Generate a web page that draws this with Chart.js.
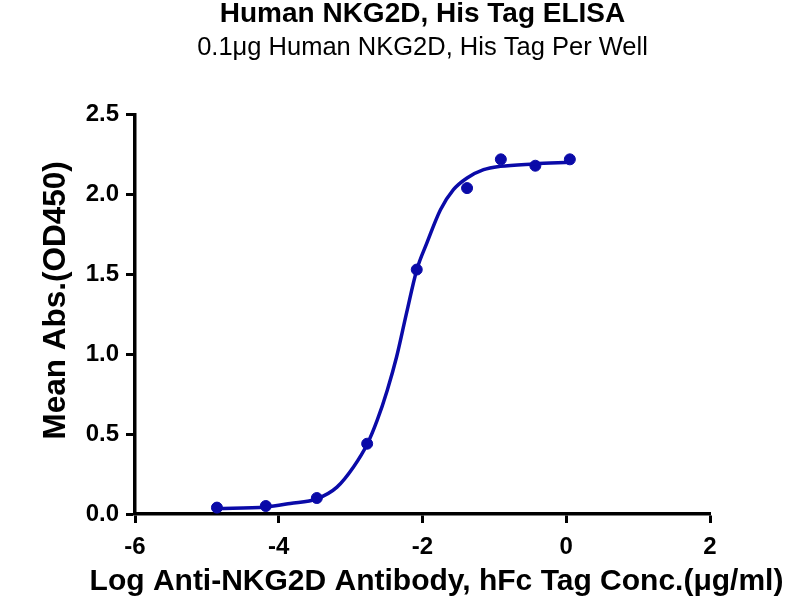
<!DOCTYPE html>
<html>
<head>
<meta charset="utf-8">
<title>Human NKG2D, His Tag ELISA</title>
<script src="https://cdn.jsdelivr.net/npm/chart.js@4/dist/chart.umd.min.js"></script>
<style>
  html, body { margin: 0; padding: 0; background: #fff; }
  #wrap { width: 800px; height: 600px; position: relative; }
</style>
</head>
<body>
<div id="wrap"><canvas id="elisaChart"></canvas></div>
<script>
// measured points (log concentration, mean OD450)
const logConc = [-4.86, -4.18, -3.47, -2.77, -2.08, -1.38, -0.91, -0.43, 0.05];
const meanAbs = [0.04, 0.05, 0.10, 0.44, 1.53, 2.04, 2.22, 2.18, 2.22];

// fitted curve
const fitX = [-4.86, -4.18, -3.84, -3.47, -3.19, -2.96, -2.77, -2.63, -2.49, -2.36, -2.22, -2.08, -1.94, -1.75, -1.57, -1.38, -1.15, -0.92, -0.45, 0.05];
const fitY = [0.035, 0.044, 0.066, 0.095, 0.168, 0.294, 0.436, 0.587, 0.775, 0.984, 1.262, 1.528, 1.695, 1.904, 2.03, 2.103, 2.155, 2.176, 2.191, 2.201];

// axis ticks
const xTicks = [-6, -4, -2, 0, 2];
const yTicks = [0, 0.5, 1.0, 1.5, 2.0, 2.5];

const xTitle = 'Log Anti-NKG2D Antibody, hFc Tag Conc.(\u03bcg/ml)';
const yTitle = 'Mean Abs.(OD450)';

const blue = '#0a0aa8';
const fontFamily = '"Liberation Sans", Arial, Helvetica, sans-serif';

const pointData = logConc.map((x, i) => ({ x: x, y: meanAbs[i] }));
const curveData = fitX.map((x, i) => ({ x: x, y: fitY[i] }));

/**
 * Axis titles are drawn here instead of by the scales: the x title is
 * wider than the plot area and Chart.js would squeeze it to fit.
 */
const axisTitles = {
    id: 'axisTitles',
    afterDraw(chart) {
        const { ctx, chartArea } = chart;
        ctx.save();
        ctx.fillStyle = '#000';
        ctx.textAlign = 'center';
        ctx.textBaseline = 'middle';

        ctx.font = 'bold 30px ' + fontFamily;
        ctx.fillText(xTitle, (chartArea.left + chartArea.right) / 2 + 14, chart.height - 18);

        ctx.font = 'bold 31.5px ' + fontFamily;
        ctx.translate(56, (chartArea.top + chartArea.bottom) / 2 - 14);
        ctx.rotate(-Math.PI / 2);
        ctx.fillText(yTitle, 0, 0);
        ctx.restore();
    }
};

const ctx = document.getElementById('elisaChart');
new Chart(ctx, {
    type: 'scatter',
    data: {
        datasets: [
            {
                label: 'Fit',
                type: 'line',
                data: curveData,
                borderColor: blue,
                borderWidth: 3.5,
                pointRadius: 0,
                fill: false,
                cubicInterpolationMode: 'monotone'
            },
            {
                label: 'Mean Abs.',
                data: pointData,
                backgroundColor: blue,
                borderColor: blue,
                pointRadius: 5.5,
                pointHoverRadius: 5.5
            }
        ]
    },
    plugins: [axisTitles],
    options: {
        responsive: true,
        maintainAspectRatio: false,
        animation: false,
        layout: {
            padding: { top: 0, right: 90, bottom: 0, left: 0 }
        },
        plugins: {
            legend: { display: false },
            tooltip: { enabled: false },
            title: {
                display: true,
                fullSize: false,
                text: 'Human NKG2D, His Tag ELISA',
                color: '#000',
                font: { family: fontFamily, size: 28, weight: 'bold', lineHeight: 1.0 },
                padding: { top: 0, bottom: 5 }
            },
            subtitle: {
                display: true,
                fullSize: false,
                text: '0.1\u03bcg Human NKG2D, His Tag Per Well',
                color: '#000',
                font: { family: fontFamily, size: 25.5, weight: 'normal' },
                padding: { top: 0, bottom: 51 }
            }
        },
        scales: {
            x: {
                type: 'linear',
                min: -6,
                max: 2,
                afterBuildTicks: function(scale) {
                    scale.ticks = xTicks.map(v => ({ value: v }));
                },
                afterFit: function(scale) { scale.height = 86; },
                border: { display: true, color: '#000', width: 3.5 },
                grid: {
                    display: true,
                    drawOnChartArea: false,
                    drawTicks: true,
                    tickLength: 9,
                    tickWidth: 3,
                    tickColor: '#000'
                },
                ticks: {
                    color: '#000',
                    padding: 10,
                    font: { family: fontFamily, size: 24, weight: 'bold' },
                    callback: v => String(v)
                }
            },
            y: {
                type: 'linear',
                min: 0,
                max: 2.5,
                afterBuildTicks: function(scale) {
                    scale.ticks = yTicks.map(v => ({ value: v }));
                },
                afterFit: function(scale) { scale.width = 135; },
                border: { display: true, color: '#000', width: 3.5 },
                grid: {
                    display: true,
                    drawOnChartArea: false,
                    drawTicks: true,
                    tickLength: 9,
                    tickWidth: 3,
                    tickColor: '#000'
                },
                ticks: {
                    color: '#000',
                    padding: 7,
                    font: { family: fontFamily, size: 24, weight: 'bold' },
                    callback: v => Number(v).toFixed(1)
                }
            }
        }
    }
});
</script>
</body>
</html>
